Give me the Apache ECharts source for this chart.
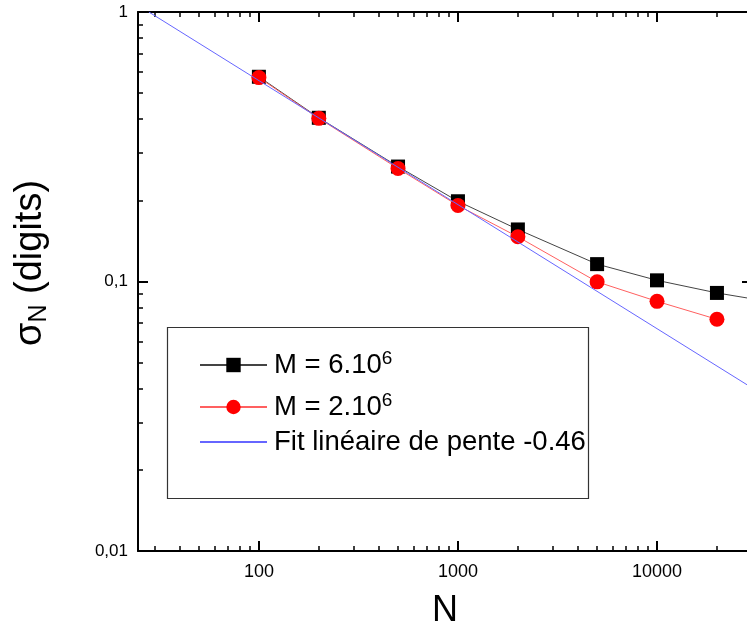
<!DOCTYPE html>
<html><head><meta charset="utf-8">
<script src="https://cdn.jsdelivr.net/npm/echarts@6/dist/echarts.min.js"></script>
<style>html,body{margin:0;padding:0;background:#fff;overflow:hidden}#c{width:770px;height:629px}</style>
</head><body><div id="c"></div>
<script>
// ---- data ----
const nM6 = [100, 200, 500, 1000, 2000, 5000, 10000, 20000, 50000];
const sigmaM6 = [0.575, 0.405, 0.267, 0.1985, 0.156, 0.116, 0.101, 0.0907, 0.081];
const nM2 = [100, 200, 500, 1000, 2000, 5000, 10000, 20000];
const sigmaM2 = [0.571, 0.403, 0.2626, 0.1914, 0.1465, 0.0997, 0.0844, 0.0724];
const fitN = [28, 30000];
const fitSigma = [1.0, 0.0403];
const seriesNames = ['M = 6.10', 'M = 2.10', 'Fit linéaire de pente -0.46'];
const seriesExp = ['6', '6', ''];
const xMajor = [100, 1000, 10000];
const xMinor = [30, 40, 50, 60, 70, 80, 90, 200, 300, 400, 500, 600, 700, 800, 900,
                2000, 3000, 4000, 5000, 6000, 7000, 8000, 9000, 20000];
const yMajor = [0.01, 0.1, 1];
const yMinor = [0.02, 0.03, 0.04, 0.05, 0.06, 0.07, 0.08, 0.09,
                0.2, 0.3, 0.4, 0.5, 0.6, 0.7, 0.8, 0.9];
const xLabel = 'N';
const yLabelMain = 'σ', yLabelSub = 'N', yLabelRest = ' (digits)';

// ---- chart ----
const FONT = '"Liberation Sans", Arial, sans-serif';
const XMIN = 24.7, XMAX = 30000, YMIN = 0.01, YMAX = 1;

function fmtNum(v) { return String(+(+v).toPrecision(6)).replace('.', ','); }

function xAx(pos, vals, len, w, label, line) {
  return {
    type: 'log', logBase: 10, position: pos, min: XMIN, max: XMAX, gridIndex: 0,
    splitLine: { show: false },
    axisLine: { show: line, lineStyle: { color: '#000', width: 2 } },
    axisTick: { show: true, inside: true, length: len, customValues: vals, lineStyle: { color: '#000', width: w } },
    axisLabel: label ? { show: true, customValues: vals, fontSize: 18, fontFamily: FONT, color: '#000', margin: 12,
      formatter: v => fmtNum(v) } : { show: false },
    name: (label && pos === 'bottom') ? xLabel : '',
    nameLocation: 'middle', nameGap: 42,
    nameTextStyle: { fontSize: 36, fontFamily: FONT, color: '#000' }
  };
}
function yAx(pos, vals, len, w, label, line) {
  return {
    type: 'log', logBase: 10, position: pos, min: YMIN, max: YMAX, gridIndex: 0,
    splitLine: { show: false },
    axisLine: { show: line, lineStyle: { color: '#000', width: 2 } },
    axisTick: { show: true, inside: true, length: len, customValues: vals, lineStyle: { color: '#000', width: w } },
    axisLabel: label ? { show: true, customValues: vals, fontSize: 17, fontFamily: FONT, color: '#000', margin: 10,
      formatter: v => fmtNum(v) } : { show: false }
  };
}

const legendTops = [349, 391, 428];
const rich = {
  t: { fontSize: 27.5, fontFamily: FONT, color: '#000', lineHeight: 32 },
  s: { fontSize: 19, fontFamily: FONT, color: '#000', verticalAlign: 'top', lineHeight: 13 }
};

function makeLegend(nm, i) {
  const lg = {
    data: [nm], left: 199, top: legendTops[i], orient: 'vertical', padding: 0,
    itemWidth: 67, itemHeight: 18, selectedMode: false,
    formatter: name => {
      const e = seriesExp[seriesNames.indexOf(name)];
      return '{t|' + name + '}' + (e ? '{s|' + e + '}' : '');
    },
    textStyle: { rich: rich, padding: [0, 0, 0, 2] }
  };
  if (!seriesExp[i]) lg.itemStyle = { opacity: 0 };
  return lg;
}

const chart = echarts.init(document.getElementById('c'), null, { renderer: 'canvas' });
chart.setOption({
  animation: false,
  backgroundColor: '#fff',
  grid: { left: 138, top: 12, width: 614, height: 539, containLabel: false, outerBoundsMode: 'none' },
  xAxis: [
    xAx('bottom', xMajor, 10, 2, true, true),
    xAx('bottom', xMinor, 5, 1.5, false, false),
    xAx('top', xMajor, 10, 2, false, true),
    xAx('top', xMinor, 5, 1.5, false, false)
  ],
  yAxis: [
    yAx('left', yMajor, 10, 2, true, true),
    yAx('left', yMinor, 5, 1.5, false, false),
    yAx('right', yMajor, 10, 2, false, true),
    yAx('right', yMinor, 5, 1.5, false, false)
  ],
  legend: seriesNames.map(makeLegend),
  graphic: [
    { type: 'rect', shape: { x: 167.5, y: 327.5, width: 421, height: 171 },
      style: { fill: 'none', stroke: '#333', lineWidth: 1.2 }, z: 0 },
    { type: 'text', x: 31, y: 263, rotation: Math.PI / 2,
      style: {
        text: '{a|' + yLabelMain + '}{b|' + yLabelSub + '}{a|' + yLabelRest + '}',
        rich: {
          a: { fontSize: 38, fontFamily: FONT, fill: '#000', lineHeight: 42, verticalAlign: 'middle' },
          b: { fontSize: 25, fontFamily: FONT, fill: '#000', lineHeight: 25, verticalAlign: 'bottom' }
        },
        align: 'center', verticalAlign: 'middle'
      } }
  ],
  series: [
    { type: 'line', name: seriesNames[0], xAxisIndex: 0, yAxisIndex: 0,
      data: nM6.map((n, i) => [n, sigmaM6[i]]),
      symbol: 'rect', symbolSize: 14, itemStyle: { color: '#000' },
      lineStyle: { color: '#444', width: 1 }, z: 2 },
    { type: 'line', name: seriesNames[1], xAxisIndex: 0, yAxisIndex: 0,
      data: nM2.map((n, i) => [n, sigmaM2[i]]),
      symbol: 'circle', symbolSize: 15, itemStyle: { color: '#ff0000' },
      lineStyle: { color: '#ff6060', width: 1 }, z: 3 },
    { type: 'line', name: seriesNames[2], xAxisIndex: 0, yAxisIndex: 0,
      data: fitN.map((n, i) => [n, fitSigma[i]]),
      symbol: 'none', itemStyle: { color: '#6666ff' },
      lineStyle: { color: '#6666ff', width: 1 }, z: 4 }
  ]
});
</script>
</body></html>
